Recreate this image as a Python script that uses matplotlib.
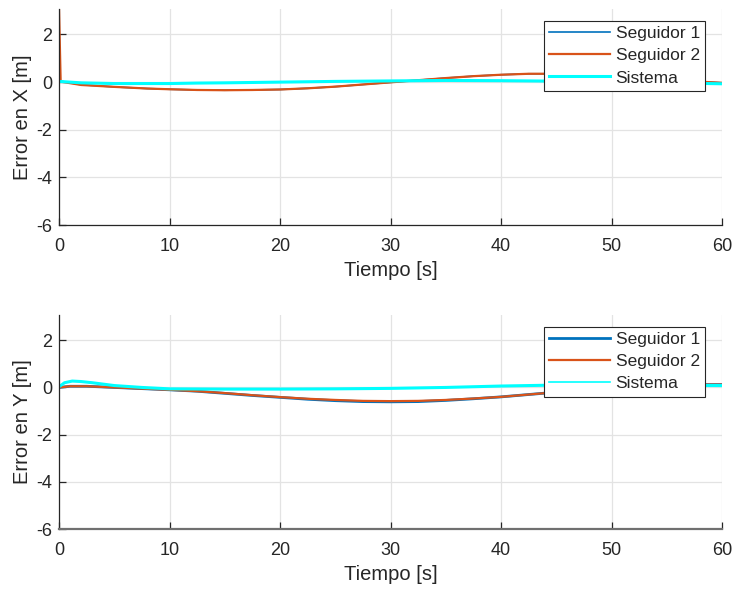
import matplotlib.pyplot as plt
from matplotlib.lines import Line2D

plt.rcParams['font.family'] = ['Liberation Sans', 'DejaVu Sans']
plt.rcParams['axes.unicode_minus'] = False

# error en X
tx_s1 = [0, 2, 5, 8, 10, 12.5, 15, 17.5, 20, 22.5, 25, 27.5, 30, 32.5, 35, 37.5,
         40, 42.5, 45, 47.5, 50, 52.5, 55, 57.5, 60]
ex_s1 = [0.05, -0.11, -0.2, -0.27, -0.3, -0.33, -0.34, -0.33, -0.31, -0.26, -0.19, -0.1,
         -0.01, 0.08, 0.17, 0.25, 0.31, 0.35, 0.35, 0.31, 0.25, 0.18, 0.1, 0.03, -0.03]
tx_s2 = [0, 0.15, 2, 5, 8, 10, 12.5, 15, 17.5, 20, 22.5, 25, 27.5, 30, 32.5, 35, 37.5,
         40, 42.5, 45, 47.5, 50, 52.5, 55, 57.5, 60]
ex_s2 = [3.1, 0.02, -0.12, -0.2, -0.27, -0.3, -0.33, -0.34, -0.33, -0.31, -0.26, -0.19, -0.1,
         -0.01, 0.08, 0.17, 0.25, 0.31, 0.35, 0.35, 0.31, 0.25, 0.18, 0.1, 0.03, -0.03]
tx_sis = [0, 2, 5, 10, 12.5, 15, 20, 25, 30, 35, 40, 45, 50, 55, 60]
ex_sis = [0.03, -0.03, -0.06, -0.06, -0.04, -0.03, 0.0, 0.03, 0.05, 0.07, 0.06, 0.04, 0.02, -0.03, -0.07]

# error en Y
ty = [0, 1, 2.5, 5, 7.5, 10, 12.5, 15, 17.5, 20, 22.5, 25, 27.5, 30, 32.5, 35, 37.5,
      40, 42.5, 45, 47.5, 50, 52.5, 55, 57.5, 60]
ey_s1 = [0, 0.05, 0.05, 0.0, -0.05, -0.1, -0.16, -0.25, -0.34, -0.42, -0.5, -0.56, -0.6,
         -0.61, -0.6, -0.55, -0.48, -0.4, -0.3, -0.2, -0.1, -0.02, 0.05, 0.1, 0.12, 0.12]
ey_s2 = [0, 0.05, 0.05, 0.0, -0.05, -0.1, -0.16, -0.24, -0.33, -0.41, -0.48, -0.53, -0.57,
         -0.58, -0.57, -0.53, -0.47, -0.4, -0.3, -0.2, -0.1, -0.02, 0.05, 0.1, 0.12, 0.12]
ty_sis = [0, 0.5, 1.2, 2, 3, 5, 7.5, 10, 15, 20, 25, 30, 35, 40, 45, 50, 55, 60]
ey_sis = [0.03, 0.2, 0.27, 0.25, 0.2, 0.08, 0.0, -0.06, -0.07, -0.07, -0.06, -0.04, 0.0,
          0.06, 0.1, 0.1, 0.09, 0.08]

c1 = '#0072BD'
c2 = '#D95319'
c3 = '#00FFFF'
txt = '#262626'

fig = plt.figure(figsize=(7.34, 5.92), dpi=100)
ax1 = fig.add_axes([0.0804, 0.6199, 0.9033, 0.3649])
ax2 = fig.add_axes([0.0804, 0.1064, 0.9033, 0.3615])

ax1.plot(tx_s1, ex_s1, color=c1, lw=1.2)
ax1.plot(tx_s2, ex_s2, color=c2, lw=1.6)
ax1.plot(tx_sis, ex_sis, color=c3, lw=2.2)
h1 = [Line2D([], [], color=c1, lw=1.2), Line2D([], [], color=c2, lw=1.6),
      Line2D([], [], color=c3, lw=2.2)]

ax2.plot(ty, ey_s1, color=c1, lw=2.0)
ax2.plot(ty, ey_s2, color=c2, lw=1.6)
ax2.plot(ty_sis, ey_sis, color=c3, lw=2.2)
h2 = [Line2D([], [], color=c1, lw=2.0), Line2D([], [], color=c2, lw=1.6),
      Line2D([], [], color=c3, lw=1.2)]

for ax, lab, hh in [(ax1, 'Error en X [m]', h1), (ax2, 'Error en Y [m]', h2)]:
    ax.set_xlim(0, 60)
    ax.set_ylim(-6, 3.07)
    ax.set_xticks(range(0, 61, 10))
    ax.set_yticks([-6, -4, -2, 0, 2])
    ax.grid(True, color='#e3e3e3', lw=0.9)
    ax.set_axisbelow(True)
    for s in ['top', 'right']:
        ax.spines[s].set_visible(False)
    for s in ['left', 'bottom']:
        ax.spines[s].set_color(txt)
        ax.spines[s].set_linewidth(0.9)
    ax.tick_params(direction='in', length=5, width=0.9, color=txt, labelcolor=txt,
                   labelsize=13)
    ax.tick_params(axis='x', pad=9)
    ax.tick_params(axis='y', pad=5)
    ax.set_xlabel('Tiempo [s]', fontsize=14.5, color=txt, labelpad=5)
    ax.set_ylabel(lab, fontsize=14.5, color=txt, labelpad=3)
    leg = ax.legend(hh, ['Seguidor 1', 'Seguidor 2', 'Sistema'], loc='upper right',
                    bbox_to_anchor=(1 - 17 / 663, 1 - 12 / 216), borderaxespad=0,
                    fontsize=12.5, fancybox=False, framealpha=1, edgecolor='#262626',
                    handlelength=3.5, handletextpad=0.35, labelspacing=0.4,
                    borderpad=0.3)
    leg.get_frame().set_linewidth(0.8)
    for t in leg.get_texts():
        t.set_color(txt)

ax2.spines['bottom'].set_color('#707070')
ax2.spines['bottom'].set_linewidth(1.6)

fig.savefig('out.png', dpi=100)
